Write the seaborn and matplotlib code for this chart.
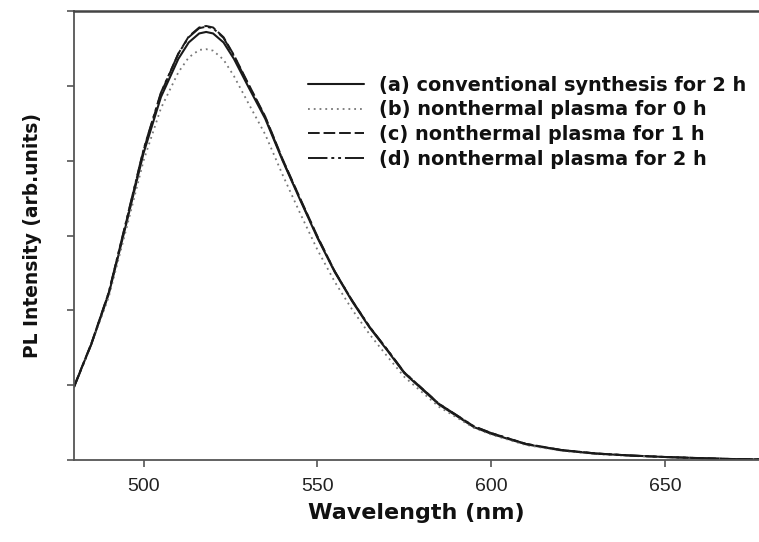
import matplotlib
matplotlib.use("Agg")
import matplotlib.pyplot as plt
import seaborn as sns
import pandas as pd

# Photoluminescence spectra (arbitrary units)
wavelength = [480, 485, 490, 495, 500, 505, 510, 513, 516, 518, 520, 523, 526, 530,
              535, 540, 545, 550, 555, 560, 565, 570, 575, 580, 585, 590, 595, 600,
              610, 620, 630, 640, 650, 660, 670, 677]

conv_2h = [0.98, 1.55, 2.22, 3.15, 4.10, 4.85, 5.36, 5.58, 5.70, 5.72, 5.70, 5.58, 5.36, 5.00,
           4.56, 4.00, 3.48, 2.97, 2.51, 2.12, 1.77, 1.47, 1.16, 0.95, 0.74, 0.59, 0.44, 0.35,
           0.21, 0.13, 0.085, 0.06, 0.04, 0.025, 0.012, 0.008]

plasma_0h = [0.98, 1.54, 2.18, 3.08, 4.00, 4.70, 5.18, 5.38, 5.48, 5.49, 5.47, 5.35, 5.13, 4.78,
             4.35, 3.81, 3.30, 2.81, 2.38, 2.01, 1.68, 1.39, 1.11, 0.91, 0.71, 0.57, 0.43, 0.34,
             0.20, 0.125, 0.08, 0.055, 0.038, 0.023, 0.011, 0.007]

plasma_1h = [0.98, 1.56, 2.24, 3.18, 4.14, 4.90, 5.43, 5.66, 5.78, 5.80, 5.78, 5.65, 5.41, 5.04,
             4.59, 4.02, 3.50, 2.99, 2.52, 2.13, 1.78, 1.48, 1.17, 0.96, 0.75, 0.60, 0.45, 0.36,
             0.215, 0.135, 0.088, 0.06, 0.04, 0.025, 0.012, 0.008]

plasma_2h = [0.97, 1.55, 2.24, 3.19, 4.15, 4.91, 5.43, 5.65, 5.77, 5.79, 5.77, 5.64, 5.40, 5.03,
             4.58, 4.01, 3.49, 2.98, 2.52, 2.13, 1.78, 1.48, 1.17, 0.96, 0.75, 0.60, 0.45, 0.36,
             0.215, 0.135, 0.088, 0.06, 0.04, 0.025, 0.012, 0.008]

labels = ["(a) conventional synthesis for 2 h",
          "(b) nonthermal plasma for 0 h",
          "(c) nonthermal plasma for 1 h",
          "(d) nonthermal plasma for 2 h"]

x_ticks = [500, 550, 600, 650]

sns.set_theme(style="ticks")
plt.rcParams["font.family"] = ["Liberation Sans", "DejaVu Sans"]
bold_family = ["DejaVu Sans"]

fig = plt.figure(figsize=(7.59, 5.42), dpi=100)
ax = fig.add_axes([74 / 759, 1 - 460 / 542, 1 - 74 / 759, (460 - 11) / 542])

styles = [
    dict(color="#1a1a1a", linestyle="-", linewidth=1.5),
    dict(color="#777777", linestyle=(0, (1, 2.2)), linewidth=1.3),
    dict(color="#1a1a1a", linestyle=(0, (6, 2)), linewidth=1.4),
    dict(color="#1a1a1a", linestyle=(0, (10, 2, 1.5, 2, 1.5, 2)), linewidth=1.4),
]

for series, lab, st in zip([conv_2h, plasma_0h, plasma_1h, plasma_2h], labels, styles):
    df = pd.DataFrame({"Wavelength": wavelength, "PL": series})
    sns.lineplot(data=df, x="Wavelength", y="PL", ax=ax, label=lab, **st)

ax.set_xlim(480, 677)
ax.set_ylim(0, 6)
ax.set_xticks(x_ticks)
ax.set_xticklabels([str(t) for t in x_ticks], fontsize=14)
ax.set_yticks(range(0, 7))
ax.set_yticklabels([])

spine_color = "#555555"
for side in ["left", "bottom"]:
    ax.spines[side].set_visible(True)
    ax.spines[side].set_color(spine_color)
    ax.spines[side].set_linewidth(1.3)
ax.spines["top"].set_visible(True)
ax.spines["top"].set_color("#444444")
ax.spines["top"].set_linewidth(1.8)
ax.spines["right"].set_visible(False)
ax.tick_params(axis="both", direction="out", length=5, width=1.2, color=spine_color,
               labelcolor="#222222")
ax.tick_params(axis="x", pad=8)

ax.set_xlabel("Wavelength (nm)", fontsize=16, fontweight="bold", color="#111111",
              family=bold_family)
ax.set_ylabel("PL Intensity (arb.units)", fontsize=13.4, fontweight="bold", color="#111111",
              family=bold_family)
ax.xaxis.set_label_coords(0.5, -0.096)
ax.yaxis.set_label_coords(-0.047, 0.5)

leg = ax.legend(loc="upper left", bbox_to_anchor=(0.342, 0.856), frameon=False,
                prop=dict(family=bold_family, weight="bold", size=13.9),
                handlelength=2.9, handletextpad=0.75, labelspacing=0.3,
                borderpad=0, borderaxespad=0)
for t in leg.get_texts():
    t.set_color("#111111")

fig.savefig("out.png", dpi=100)
